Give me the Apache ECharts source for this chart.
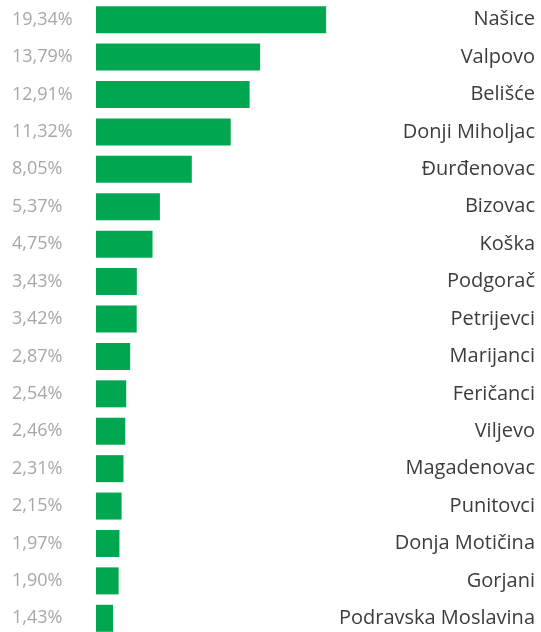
<!DOCTYPE html>
<html lang="hr">
<head>
<meta charset="UTF-8">
<title>Udio po općinama</title>
<style>
  html, body { margin: 0; padding: 0; background: #fff; }
  #main { width: 541px; height: 632px; }
</style>
</head>
<body>
<div id="main"></div>
<script src="https://cdn.jsdelivr.net/npm/echarts@6/dist/echarts.min.js"></script>
<script>
var places = ['Našice', 'Valpovo', 'Belišće', 'Donji Miholjac', 'Đurđenovac', 'Bizovac', 'Koška',
  'Podgorač', 'Petrijevci', 'Marijanci', 'Feričanci', 'Viljevo', 'Magadenovac', 'Punitovci',
  'Donja Motičina', 'Gorjani', 'Podravska Moslavina'];
var shares = [19.34, 13.79, 12.91, 11.32, 8.05, 5.37, 4.75, 3.43, 3.42, 2.87, 2.54, 2.46, 2.31, 2.15, 1.97, 1.90, 1.43];

var fontFam = '"Open Sans", "Noto Sans", sans-serif';

function pct(v) {
  return v.toFixed(2).replace('.', ',') + '%';
}

var chart = echarts.init(document.getElementById('main'));
chart.setOption({
  animation: false,
  // grid runs a little past the bottom edge so the last bar sits flush like the original
  grid: { left: 96, top: 1, width: 238, bottom: -5, outerBoundsMode: 'none' },
  xAxis: { type: 'value', min: 0, max: 20, show: false },
  yAxis: [{
    type: 'category',
    data: places,
    inverse: true,
    position: 'left',
    axisLine: { show: false },
    axisTick: { show: false },
    axisLabel: {
      margin: 84,
      align: 'left',
      fontFamily: fontFam,
      fontSize: 18,
      color: '#a5a7aa',
      formatter: function (val, i) { return pct(shares[i]); }
    }
  }, {
    type: 'category',
    data: places,
    inverse: true,
    position: 'right',
    axisLine: { show: false },
    axisTick: { show: false },
    axisLabel: {
      margin: 201,
      align: 'right',
      fontFamily: fontFam,
      fontSize: 20,
      color: '#3c3c3c'
    }
  }],
  series: [{
    type: 'bar',
    data: shares,
    barWidth: 27,
    itemStyle: { color: '#00a650' },
    silent: true
  }]
});
</script>
</body>
</html>
